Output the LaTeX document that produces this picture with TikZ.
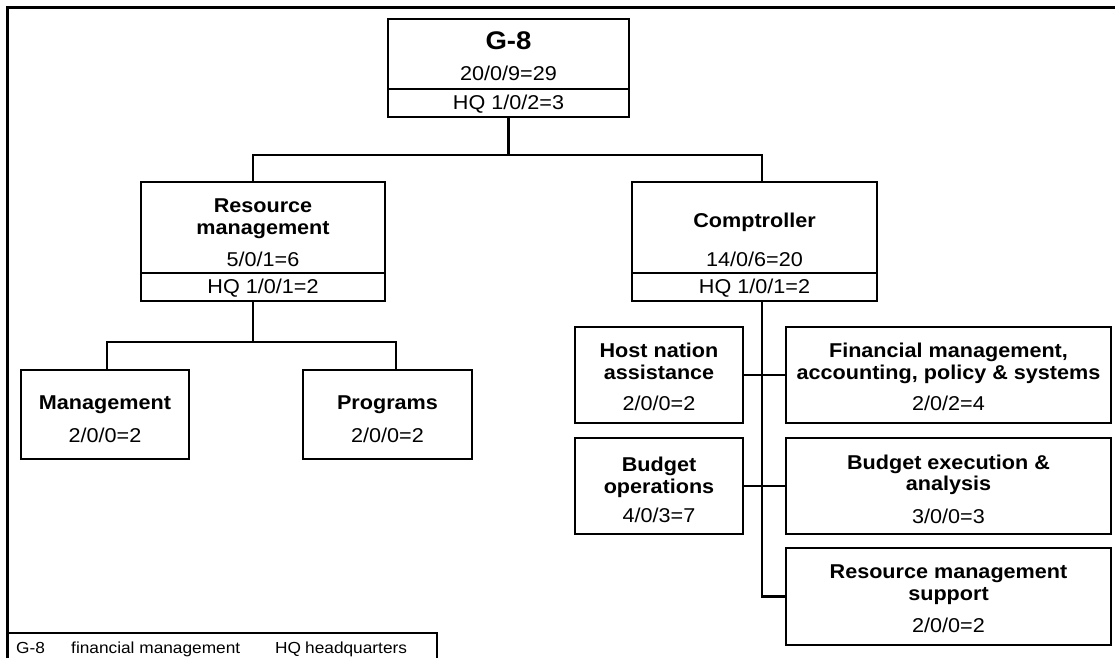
\documentclass[tikz,border=0pt]{standalone}
\usepackage{fontspec}
\setmainfont{Liberation Sans}[FakeStretch=1.08]
\begin{document}
\begin{tikzpicture}[x=1pt,y=-1pt,
  box/.style={draw, line width=2.3pt, anchor=north west, inner sep=0pt, outer sep=0pt},
  divline/.style={line width=2pt},
  conn/.style={line width=2.1pt},
  frameline/.style={line width=3pt},
  legline/.style={line width=2pt},
  ttl/.style={anchor=base, inner sep=0pt, font=\fontsize{20}{22}\selectfont\bfseries},
  bigttl/.style={anchor=base, inner sep=0pt, font=\fontsize{25.5}{28}\selectfont\bfseries},
  num/.style={anchor=base, inner sep=0pt, font=\fontsize{20}{22}\selectfont},
  leg/.style={anchor=base west, inner sep=0pt, font=\fontsize{16}{18}\selectfont}
]
\useasboundingbox (0,0) rectangle (1115,658);

% outer frame and legend strip
\draw[frameline] (7,658) -- (7,8) -- (1115,8);
\draw[legline] (7,633) -- (437,633) -- (437,658);
\node[leg] (lg1) at (16,653) {G-8};
\node[leg] (lg2) at (71,653) {financial management};
\node[leg] (lg3) at (275,653) {HQ};
\node[leg] (lg4) at (305,653) {headquarters};

% boxes: name, left, top, width, height
\newcommand\orgbox[5]{\node[box, minimum width=#4pt, minimum height=#5pt] (#1) at (#2,#3) {};}
\orgbox{g8}{388}{19}{241}{98}
\orgbox{rm}{141}{182}{244}{119}
\orgbox{cp}{632}{182}{245}{119}
\orgbox{mg}{21}{370}{168}{89}
\orgbox{pg}{303}{370}{169}{89}
\orgbox{hna}{575}{327}{168}{96}
\orgbox{fin}{786}{327}{325}{96}
\orgbox{bo}{575}{438}{168}{96}
\orgbox{be}{786}{438}{325}{96}
\orgbox{rms}{786}{548}{325}{97}

% headquarters rows
\foreach \b in {g8,rm,cp}
  \draw[divline] ([yshift=28pt]\b.south west) -- ([yshift=28pt]\b.south east);

% texts
\node[bigttl] (g8-t) at (g8.north |- 0,50) {G-8};
\node[num] (g8-n) at (g8.north |- 0,81) {20/0/9=29};
\node[num] (g8-h) at (g8.north |- 0,110) {HQ 1/0/2=3};

\node[ttl] (rm-t1) at (rm.north |- 0,212) {Resource};
\node[ttl] (rm-t2) at (rm.north |- 0,234) {management};
\node[num] (rm-n) at (rm.north |- 0,266) {5/0/1=6};
\node[num] (rm-h) at (rm.north |- 0,293) {HQ 1/0/1=2};

\node[ttl] (cp-t) at (cp.north |- 0,227) {Comptroller};
\node[num] (cp-n) at (cp.north |- 0,266) {14/0/6=20};
\node[num] (cp-h) at (cp.north |- 0,293) {HQ 1/0/1=2};

\node[ttl] (mg-t) at (mg.north |- 0,409) {Management};
\node[num] (mg-n) at (mg.north |- 0,442) {2/0/0=2};
\node[ttl] (pg-t) at (pg.north |- 0,409) {Programs};
\node[num] (pg-n) at (pg.north |- 0,442) {2/0/0=2};

\node[ttl] (hna-t1) at (hna.north |- 0,357) {Host nation};
\node[ttl] (hna-t2) at (hna.north |- 0,379) {assistance};
\node[num] (hna-n) at (hna.north |- 0,410) {2/0/0=2};

\node[ttl] (fin-t1) at (fin.north |- 0,357) {Financial management,};
\node[ttl] (fin-t2) at (fin.north |- 0,379) {accounting, policy \& systems};
\node[num] (fin-n) at (fin.north |- 0,410) {2/0/2=4};

\node[ttl] (bo-t1) at (bo.north |- 0,471) {Budget};
\node[ttl] (bo-t2) at (bo.north |- 0,493) {operations};
\node[num] (bo-n) at (bo.north |- 0,522) {4/0/3=7};

\node[ttl] (be-t1) at (be.north |- 0,469) {Budget execution \&};
\node[ttl] (be-t2) at (be.north |- 0,490) {analysis};
\node[num] (be-n) at (be.north |- 0,523) {3/0/0=3};

\node[ttl] (rms-t1) at (rms.north |- 0,578) {Resource management};
\node[ttl] (rms-t2) at (rms.north |- 0,600) {support};
\node[num] (rms-n) at (rms.north |- 0,632) {2/0/0=2};

% connectors
\coordinate (busL) at (253,155);
\coordinate (busR) at (762,155);
\draw[conn] (g8.south) -- (g8.south |- busL);
\draw[conn] (busL |- rm.north) -- (busL) -- (busR) -- (busR |- cp.north);

\coordinate (rmtap) at (253,342);
\coordinate (mgtap) at (107,342);
\coordinate (pgtap) at (396,342);
\draw[conn] (rmtap |- rm.south) -- (rmtap);
\draw[conn] (mgtap |- mg.north) -- (mgtap) -- (pgtap) -- (pgtap |- pg.north);

\draw[conn] (busR |- cp.south) -- (busR |- rms.west) -- (rms.west);
\draw[conn] (hna.east) -- (fin.west);
\draw[conn] (bo.east) -- (be.west);
\end{tikzpicture}
\end{document}
